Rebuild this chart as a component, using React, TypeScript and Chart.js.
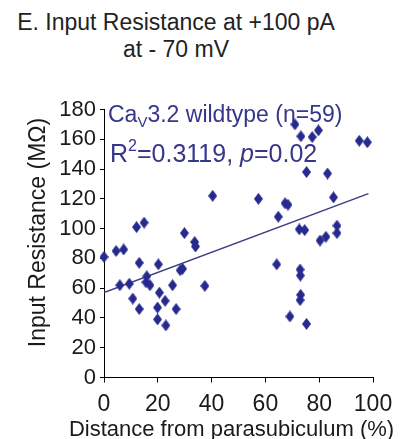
import React, { useEffect, useRef } from 'react';
import { Chart, registerables } from 'chart.js';

Chart.register(...registerables);

// ---- data ----
const distance = [0, 4.5, 7.3, 5.9, 9.4, 10.7, 12.1, 14.9, 13.1, 13.1, 15.6, 15.9, 17.1, 20.2, 20.6, 19.9, 19.9, 22.7, 23, 25.5, 26.8, 28.3, 29.2, 29.9, 33.7, 34, 37.5, 40.4, 57.4, 64.2, 64.8, 67.3, 68.4, 69.1, 71, 73.2, 77.4, 79.7, 75.3, 83.1, 85.3, 72.6, 74.6, 72.9, 73, 73.1, 72.9, 75.3, 80.3, 82.5, 86.6, 86.6, 94.9, 97.9];
const resistance = [81, 85, 86, 62, 63, 53, 101, 104, 77, 46, 64, 68, 62, 76, 57, 47, 39, 51.5, 35, 62, 46, 72, 73, 97, 91, 88, 61.5, 122, 120, 76, 108, 117, 116, 41, 170, 162, 161.5, 166, 138, 137, 121, 99.5, 99, 72.5, 68.5, 55.5, 52, 36, 92, 94.5, 97, 102, 159, 158];

const fitX = [0, 98.3];
const fitY = [57, 123.5];

const xMin = 0, xMax = 100, xStep = 20;
const yMin = 0, yMax = 180, yStep = 20;

const titleLines = ['E. Input Resistance at +100 pA', 'at - 70 mV'];
const xTitle = 'Distance from parasubiculum (%)';
const yTitle = 'Input Resistance (MΩ)';
const legendLine1 = ['Ca', 'V', '3.2 wildtype (n=59)'];
const legendLine2 = ['R', '2', '=0.3119, ', 'p', '=0.02'];

const FAMILY = '"Liberation Sans", Arial, Helvetica, sans-serif';
const POINT_COLOR = '#262a8e';
const TEXT_COLOR = '#34378a';
const LINE_COLOR = '#3a3d80';
const INK = '#1a1a1a';

function makeDiamond(): HTMLCanvasElement {
  const c = document.createElement('canvas');
  const w = 9, h = 12;
  c.width = w; c.height = h;
  const g = c.getContext('2d')!;
  g.fillStyle = POINT_COLOR;
  g.beginPath();
  g.moveTo(w / 2, 0);
  g.lineTo(w, h / 2);
  g.lineTo(w / 2, h);
  g.lineTo(0, h / 2);
  g.closePath();
  g.fill();
  return c;
}

const annotPlugin = {
  id: 'annot',
  beforeDatasetsDraw(chart: any) {
    const { ctx, chartArea } = chart;
    ctx.save();
    ctx.fillStyle = TEXT_COLOR;
    ctx.textBaseline = 'alphabetic';
    ctx.textAlign = 'left';
    // line 1
    let x = chartArea.left + 4;
    let y = chartArea.top + 12.5;
    ctx.font = `23px ${FAMILY}`;
    ctx.fillText(legendLine1[0], x, y);
    x += ctx.measureText(legendLine1[0]).width;
    ctx.font = `15px ${FAMILY}`;
    ctx.fillText(legendLine1[1], x, y + 5);
    x += ctx.measureText(legendLine1[1]).width;
    ctx.font = `23px ${FAMILY}`;
    ctx.fillText(legendLine1[2], x, y);
    // line 2
    x = chartArea.left + 6;
    y = chartArea.top + 52;
    ctx.font = `25px ${FAMILY}`;
    ctx.fillText(legendLine2[0], x, y);
    x += ctx.measureText(legendLine2[0]).width;
    ctx.font = `16px ${FAMILY}`;
    ctx.fillText(legendLine2[1], x, y - 11);
    x += ctx.measureText(legendLine2[1]).width;
    ctx.font = `25px ${FAMILY}`;
    ctx.fillText(legendLine2[2], x, y);
    x += ctx.measureText(legendLine2[2]).width;
    ctx.font = `italic 25px ${FAMILY}`;
    ctx.fillText(legendLine2[3], x, y);
    x += ctx.measureText(legendLine2[3]).width;
    ctx.font = `25px ${FAMILY}`;
    ctx.fillText(legendLine2[4], x, y);
    ctx.restore();
  },
  afterDraw(chart: any) {
    const { ctx, chartArea } = chart;
    // y-axis title
    ctx.save();
    ctx.fillStyle = INK;
    ctx.font = `23px ${FAMILY}`;
    ctx.textAlign = 'center';
    ctx.textBaseline = 'middle';
    ctx.translate(39, (chartArea.top + chartArea.bottom) / 2 - 11);
    ctx.rotate(-Math.PI / 2);
    ctx.fillText(yTitle, 0, 0);
    ctx.restore();
    // x-axis title
    ctx.save();
    ctx.fillStyle = INK;
    ctx.font = `22px ${FAMILY}`;
    ctx.textAlign = 'center';
    ctx.textBaseline = 'alphabetic';
    ctx.fillText(xTitle, (chartArea.left + chartArea.right) / 2 - 7, chartArea.bottom + 58.5);
    ctx.restore();
  },
};

export default function App() {
  const ref = useRef<HTMLCanvasElement | null>(null);

  useEffect(() => {
    if (!ref.current) return;
    const diamond = makeDiamond();
    const points = distance.map((d, i) => ({ x: d, y: resistance[i] }));
    const fit = fitX.map((d, i) => ({ x: d, y: fitY[i] }));
    const chart = new Chart(ref.current, {
      type: 'scatter',
      data: {
        datasets: [
          {
            type: 'line',
            label: 'fit',
            data: fit,
            borderColor: LINE_COLOR,
            borderWidth: 1.5,
            pointRadius: 0,
            fill: false,
            order: 2,
          } as any,
          {
            label: 'Cav3.2 wildtype',
            data: points,
            pointStyle: diamond as any,
            pointRadius: 5,
            backgroundColor: POINT_COLOR,
            borderColor: POINT_COLOR,
            clip: false as any,
            order: 1,
          },
        ],
      },
      options: {
        animation: false,
        responsive: false,
        devicePixelRatio: 1,
        layout: { padding: { top: 109.5, right: 37, left: 0, bottom: 0 } },
        plugins: {
          legend: { display: false },
          title: { display: false },
          tooltip: { enabled: false },
        },
        scales: {
          x: {
            type: 'linear',
            min: xMin,
            max: xMax,
            ticks: { stepSize: xStep, color: INK, font: { family: FAMILY, size: 23 }, padding: 8 },
            grid: { drawOnChartArea: false, drawTicks: true, tickLength: 5, color: '#000' },
            border: { display: true, color: '#000', width: 1 },
            title: { display: false },
            afterFit: (s: any) => { s.height = 61.5; },
          },
          y: {
            type: 'linear',
            min: yMin,
            max: yMax,
            ticks: { stepSize: yStep, color: INK, font: { family: FAMILY, size: 22 }, padding: 4 },
            grid: { drawOnChartArea: false, drawTicks: true, tickLength: 4, color: '#000' },
            border: { display: true, color: '#000', width: 1 },
            title: { display: false },
            afterFit: (s: any) => { s.width = 104; },
          },
        },
      },
      plugins: [annotPlugin],
    });
    return () => chart.destroy();
  }, []);

  return (
    <div style={{ position: 'fixed', left: 0, top: 0, width: 410, height: 439, background: '#fff', overflow: 'hidden' }}>
      <div
        style={{
          position: 'absolute',
          left: 0,
          top: 9,
          width: 352,
          textAlign: 'center',
          fontFamily: FAMILY,
          fontSize: 23,
          lineHeight: '27px',
          color: '#222',
        }}
      >
        <div>{titleLines[0]}</div>
        <div>{titleLines[1]}</div>
      </div>
      <canvas ref={ref} width={410} height={439} style={{ position: 'absolute', left: 0, top: 0 }} />
    </div>
  );
}
